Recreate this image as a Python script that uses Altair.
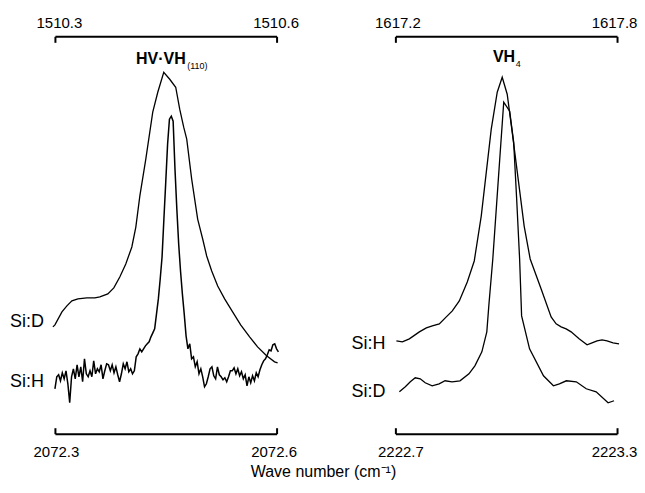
import altair as alt
import pandas as pd

H = 398  # plot height (intensity units map 1:1)
W = 222  # plot width
FONT = "Liberation Sans"

# ---------------- Left panel: HV·VH(110) ----------------
# Si:D (upper curve, top scale 1510.3 - 1510.6 cm^-1)
sid_l_wn = [1510.2973, 1510.3000, 1510.3095, 1510.3162, 1510.3230, 1510.3311, 1510.3432,
            1510.3541, 1510.3608, 1510.3716, 1510.3797, 1510.3878, 1510.3959, 1510.4041,
            1510.4095, 1510.4149, 1510.4230, 1510.4324, 1510.4392, 1510.4473, 1510.4554,
            1510.4635, 1510.4689, 1510.4743, 1510.4784, 1510.4851, 1510.4932, 1510.5000,
            1510.5054, 1510.5122, 1510.5203, 1510.5297, 1510.5405, 1510.5514, 1510.5635,
            1510.5743, 1510.5865, 1510.5973, 1510.6014]
sid_l_int = [107, 109, 122, 128, 133, 135, 136, 136, 137, 140, 146, 157, 170, 187, 207, 238,
             275, 322, 342, 362, 355, 347, 325, 307, 295, 255, 215, 195, 178, 163, 148, 135,
             122, 109, 97, 87, 78, 72, 71]

# Si:H (lower, noisy curve, bottom scale 2072.3 - 2072.6 cm^-1), sampled every 0.0025 cm^-1
sih_l_start = 2072.300
sih_l_step = 0.0025
sih_l_int = [45, 57, 59, 53, 61, 55, 63, 50, 31, 57, 65, 55, 69, 57, 67, 52, 75, 60, 57, 63,
             57, 73, 60, 65, 62, 69,
             55, 63, 70, 69, 63, 69, 61, 67, 59, 52, 60, 70, 65, 72, 62, 65, 60, 63, 77, 80,
             85, 82, 85, 88, 90, 92, 97, 101, 105, 120, 135, 155, 177, 215, 252, 290, 315, 318,
             313, 265, 225, 190, 163, 140, 120, 98, 85, 90, 75, 77, 67, 72, 60, 65, 57, 47,
             50, 57, 65, 67, 58, 55, 67, 59, 57, 54, 56, 52, 57, 63, 63, 66, 60, 65, 58, 62,
             55, 59, 48, 57, 51, 58, 53, 61, 57, 64, 69, 73, 75, 79, 84, 83, 89, 90, 85, 82]
sih_l_wn = [round(sih_l_start + sih_l_step * i, 4) for i in range(len(sih_l_int))]

# ---------------- Right panel: VH4 ----------------
# Si:H (upper curve, top scale 1617.2 - 1617.8 cm^-1)
sih_r_wn = [1617.2027, 1617.2189, 1617.2378, 1617.2649, 1617.2838, 1617.3000, 1617.3189,
            1617.3378, 1617.3541, 1617.3730, 1617.3946, 1617.4135, 1617.4324, 1617.4595,
            1617.4757, 1617.4892, 1617.5027, 1617.5162, 1617.5324, 1617.5486, 1617.5649,
            1617.5946, 1617.6216, 1617.6351, 1617.6486, 1617.6622, 1617.6757, 1617.6973,
            1617.7189, 1617.7324, 1617.7459, 1617.7595, 1617.7730, 1617.7892, 1617.8054]
sih_r_int = [93, 92, 95, 102, 106, 108, 110, 117, 123, 133, 152, 173, 218, 305, 342, 357, 340,
             302, 255, 208, 175, 145, 117, 110, 107, 105, 102, 95, 89, 91, 93, 94, 93, 91, 90]

# Si:D (lower curve, bottom scale 2222.7 - 2223.3 cm^-1)
sid_r_wn = [2222.7108, 2222.7269, 2222.7404, 2222.7538, 2222.7673, 2222.7807, 2222.7996,
            2222.8184, 2222.8345, 2222.8534, 2222.8749, 2222.8991, 2222.9152, 2222.9341,
            2222.9475, 2222.9529, 2222.9637, 2222.9825, 2222.9933, 2223.0094, 2223.0202,
            2223.0283, 2223.0363, 2223.0417, 2223.0632, 2223.1009, 2223.1278, 2223.1439,
            2223.1628, 2223.1897, 2223.2166, 2223.2435, 2223.2758, 2223.2919]
sid_r_int = [42, 47, 52, 56, 55, 51, 48, 50, 53, 52, 53, 60, 68, 82, 102, 128, 175, 275, 332,
             323, 292, 235, 175, 118, 85, 58, 48, 50, 53, 52, 45, 42, 31, 33]

# Axis ticks
left_top_ticks = [1510.3, 1510.6]
left_bot_ticks = [2072.3, 2072.6]
right_top_ticks = [1617.2, 1617.8]
right_bot_ticks = [2222.7, 2223.3]

# Annotations (positions in the upper-curve scale of each panel)
left_title = ["HV·VH"]
left_title_pos = [(1510.477, 370)]
left_sub = ["(110)"]
left_sub_pos = [(1510.479, 365)]
left_labels = ["Si:D", "Si:H"]
left_label_pos = [(1510.2851, 112), (1510.2851, 52)]

right_title = ["VH"]
right_title_pos = [(1617.524, 372)]
right_sub = ["4"]
right_sub_pos = [(1617.526, 367)]
right_labels = ["Si:H", "Si:D"]
right_label_pos = [(1617.173, 90), (1617.173, 42)]

NOVIEW = alt.ViewBackground(stroke="transparent", strokeWidth=0)


def ydef():
    return alt.Y("I:Q", scale=alt.Scale(domain=[0, H], nice=False, zero=False), axis=None)


def bracket_axis(ticks, where, left_shift, right_shift):
    mid = (ticks[0] + ticks[1]) / 2
    common = dict(values=ticks, offset=-H, tickSize=6, tickWidth=2, domainWidth=2,
                  domainColor="black", tickColor="black", labelColor="black",
                  labelFont=FONT, labelFontSize=15, labelFlush=False, labelOverlap=False,
                  format=".1f", title=None, grid=False, domainCap="butt",
                  labelOffset={"condition": {"test": f"datum.value > {mid}",
                                             "value": right_shift},
                               "value": left_shift})
    if where == "top":
        # drawn with ticks hanging down, labels above
        return alt.Axis(orient="bottom", labelPadding=-15, labelBaseline="alphabetic", **common)
    return alt.Axis(orient="top", labelPadding=-17, labelBaseline="top", **common)


def text_layer(texts, pos, domain, size, weight, align, baseline):
    df = pd.DataFrame({"wn": [p[0] for p in pos], "I": [p[1] for p in pos], "t": texts})
    return alt.Chart(df).mark_text(font=FONT, fontSize=size, fontWeight=weight, align=align,
                                   baseline=baseline, color="black").encode(
        x=alt.X("wn:Q", scale=alt.Scale(domain=domain, nice=False, zero=False)),
        y=ydef(), text="t:N")


def panel(up_wn, up_int, up_dom, up_ticks, lo_wn, lo_int, lo_dom, lo_ticks,
          title, title_pos, sub, sub_pos, labels, label_pos, lo_width, shifts):
    up_df = pd.DataFrame({"wn": up_wn, "I": up_int})
    lo_df = pd.DataFrame({"wn": lo_wn, "I": lo_int})
    up_line = alt.Chart(up_df).mark_line(color="black", strokeWidth=1.3).encode(
        x=alt.X("wn:Q", scale=alt.Scale(domain=up_dom, nice=False, zero=False),
                axis=bracket_axis(up_ticks, "top", shifts[0], shifts[1])),
        y=ydef())
    lo_line = alt.Chart(lo_df).mark_line(color="black", strokeWidth=lo_width).encode(
        x=alt.X("wn:Q", scale=alt.Scale(domain=lo_dom, nice=False, zero=False),
                axis=bracket_axis(lo_ticks, "bottom", shifts[2], shifts[3])),
        y=ydef())
    upper = alt.layer(
        up_line,
        text_layer(title, title_pos, up_dom, 16, "bold", "right", "alphabetic"),
        text_layer(sub, sub_pos, up_dom, 9, "normal", "left", "alphabetic"),
        text_layer(labels, label_pos, up_dom, 18, "normal", "right", "middle"),
    ).properties(view=NOVIEW)
    return alt.layer(upper, lo_line).resolve_scale(x="independent").properties(
        width=W, height=H, view=NOVIEW)


left = panel(sid_l_wn, sid_l_int, [1510.3, 1510.6], left_top_ticks,
             sih_l_wn, sih_l_int, [2072.3, 2072.6], left_bot_ticks,
             left_title, left_title_pos, left_sub, left_sub_pos, left_labels, left_label_pos,
             1.5, (4, -1, 1, -3))
right = panel(sih_r_wn, sih_r_int, [1617.2, 1617.8], right_top_ticks,
              sid_r_wn, sid_r_int, [2222.7, 2223.3], right_bot_ticks,
              right_title, right_title_pos, right_sub, right_sub_pos, right_labels,
              right_label_pos, 1.3, (2, -3, 5, -3))

chart = alt.hconcat(left, right, spacing=119, bounds="flush").resolve_scale(
    x="independent").properties(
    title=alt.TitleParams("Wave number (cm⁻¹)", orient="bottom", anchor="middle",
                          font=FONT, fontSize=16, fontWeight="normal", color="black",
                          offset=4),
    padding={"left": 1, "top": 7, "right": 0, "bottom": 0},
).configure_view(stroke="transparent", strokeWidth=0).configure_axis(
    grid=False, gridOpacity=0, gridColor="transparent").configure(background="white")

chart.save("out.html", embed_options={"renderer": "svg", "actions": False})
